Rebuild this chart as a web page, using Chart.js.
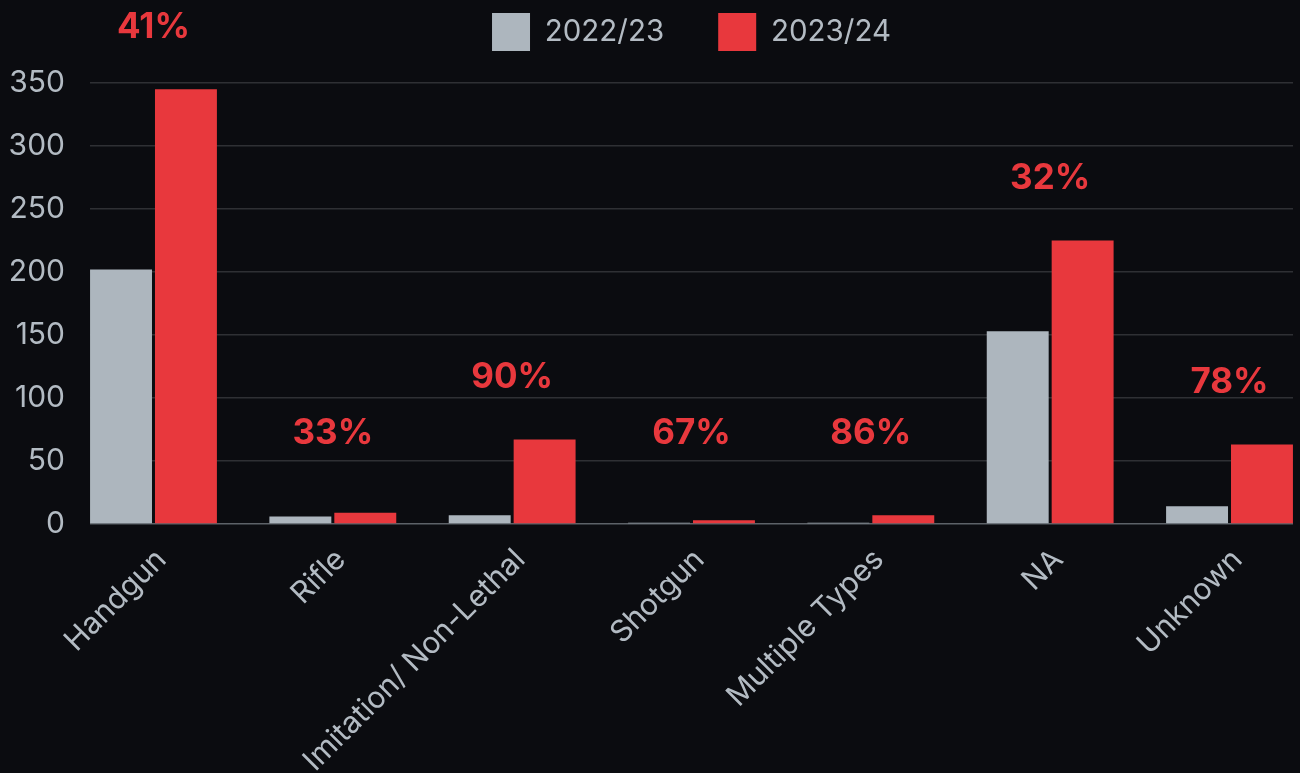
<!DOCTYPE html>
<html>
<head>
<meta charset="utf-8">
<script src="https://cdn.jsdelivr.net/npm/chart.js@4"></script>
<style>
  html, body { margin: 0; padding: 0; background: #0b0c10; overflow: hidden; }
  #wrap { width: 1300px; height: 773px; }
</style>
</head>
<body>
<div id="wrap"><canvas id="chart" width="1300" height="773"></canvas></div>
<script>
const categories = ['Handgun', 'Rifle', 'Imitation/ Non-Lethal', 'Shotgun', 'Multiple Types', 'NA', 'Unknown'];
const values2223 = [202, 6, 7, 1, 1, 153, 14];
const values2324 = [345, 9, 67, 3, 7, 225, 63];
const changeLabels = ['41%', '33%', '90%', '67%', '86%', '32%', '78%'];
const yTicks = [0, 50, 100, 150, 200, 250, 300, 350];

const GREY = '#adb6be';
const RED = '#e8383d';
const TEXT = '#b3bbc3';
const FONT = 'Inter, "Liberation Sans", sans-serif';

// percentage labels above each group
const changeLabelPlugin = {
    id: 'changeLabels',
    afterDatasetsDraw(chart) {
        const ctx = chart.ctx;
        const meta = chart.getDatasetMeta(1);
        const yMin = chart.scales.y.getPixelForValue(72);
        ctx.save();
        ctx.fillStyle = RED;
        ctx.font = 'bold 35px ' + FONT;
        ctx.textAlign = 'center';
        ctx.textBaseline = 'middle';
        meta.data.forEach((bar, i) => {
            const cx = chart.scales.x.getPixelForValue(i);
            const y = Math.min(bar.y - 62, yMin);
            ctx.fillText(changeLabels[i], cx, y);
        });
        ctx.restore();
    }
};

// extra room under the legend
const legendGap = {
    id: 'legendGap',
    beforeInit(chart) {
        const fit = chart.legend.fit;
        chart.legend.fit = function () {
            fit.bind(chart.legend)();
            this.height = 124;
        };
    }
};

const ctx = document.getElementById('chart').getContext('2d');
new Chart(ctx, {
    type: 'bar',
    data: {
        datasets: [
            {
                label: '2022/23',
                data: values2223.map((v, i) => ({ x: i, y: v })),
                backgroundColor: GREY,
                borderWidth: 0
            },
            {
                label: '2023/24',
                data: values2324.map((v, i) => ({ x: i, y: v })),
                backgroundColor: RED,
                borderWidth: 0
            }
        ]
    },
    options: {
        responsive: false,
        animation: false,
        categoryPercentage: 0.724,
        barPercentage: 0.954,
        layout: { padding: { top: -41, right: 7, left: 0, bottom: 0 } },
        plugins: {
            legend: {
                position: 'top',
                fullSize: false,
                labels: {
                    color: TEXT,
                    font: { family: FONT, size: 29.5 },
                    boxWidth: 38,
                    boxHeight: 38,
                    padding: 54
                }
            },
            tooltip: { enabled: false }
        },
        scales: {
            x: {
                type: 'linear',
                min: -0.354,
                max: 6.354,
                offset: false,
                grid: { display: false },
                border: { display: false },
                afterBuildTicks(scale) {
                    scale.ticks = categories.map((c, i) => ({ value: i }));
                },
                afterFit(scale) {
                    scale.height = 249;
                },
                ticks: {
                    autoSkip: false,
                    minRotation: 45,
                    maxRotation: 45,
                    color: TEXT,
                    font: { family: FONT, size: 30 },
                    padding: 10,
                    labelOffset: 8,
                    callback: (v) => categories[v]
                }
            },
            y: {
                min: 0,
                max: 350,
                afterBuildTicks(scale) {
                    scale.ticks = yTicks.map(v => ({ value: v }));
                },
                afterFit(scale) {
                    scale.width = 90;
                },
                border: { display: false },
                grid: {
                    drawTicks: false,
                    lineWidth: 1.5,
                    color: (c) => c.tick && c.tick.value === 0 ? '#5d6268' : '#2f3034'
                },
                ticks: {
                    color: TEXT,
                    font: { family: FONT, size: 30 },
                    padding: 25
                }
            }
        }
    },
    plugins: [changeLabelPlugin, legendGap]
});
</script>
</body>
</html>
